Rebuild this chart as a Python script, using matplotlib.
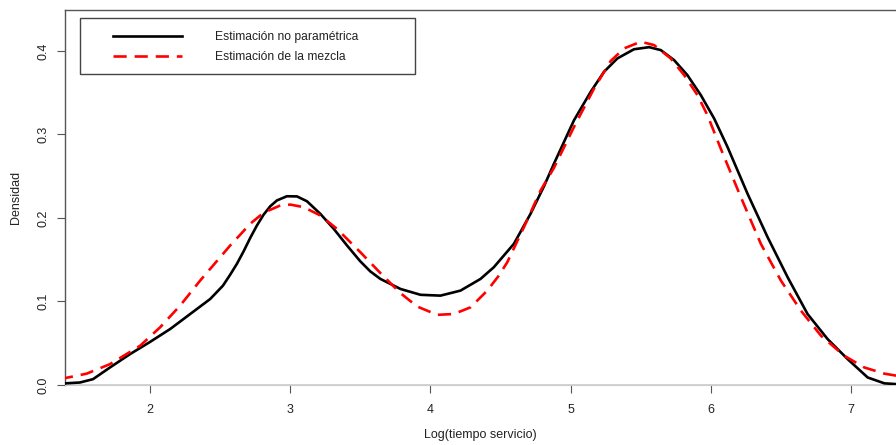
import matplotlib
matplotlib.use("Agg")
import matplotlib.pyplot as plt
from matplotlib.patches import Rectangle
from matplotlib.lines import Line2D

plt.rcParams["font.family"] = ["Liberation Sans", "DejaVu Sans"]

# kernel density estimate of log service time
kde_x = [1.357, 1.50, 1.593, 1.714, 1.857, 2.0, 2.143, 2.286, 2.429, 2.52,
         2.571, 2.619, 2.667, 2.714, 2.762, 2.81, 2.857, 2.905, 2.976, 3.048,
         3.119, 3.214, 3.31, 3.405, 3.5, 3.571, 3.643, 3.786, 3.929, 4.071,
         4.214, 4.357, 4.452, 4.595, 4.714, 4.81, 4.881, 5.024, 5.143, 5.238,
         5.333, 5.452, 5.56, 5.643, 5.738, 5.833, 5.929, 6.024, 6.119, 6.262,
         6.405, 6.548, 6.69, 6.833, 6.976, 7.119, 7.238, 7.33]
kde_y = [0.0016, 0.003, 0.007, 0.021, 0.037, 0.0516, 0.067, 0.085, 0.103, 0.119,
         0.132, 0.145, 0.160, 0.176, 0.191, 0.204, 0.214, 0.221, 0.226, 0.2258,
         0.220, 0.205, 0.187, 0.167, 0.148, 0.136, 0.127, 0.115, 0.108, 0.107,
         0.113, 0.127, 0.141, 0.169, 0.205, 0.238, 0.265, 0.317, 0.351, 0.375,
         0.391, 0.402, 0.4045, 0.401, 0.389, 0.371, 0.347, 0.319, 0.285, 0.229,
         0.177, 0.129, 0.085, 0.055, 0.031, 0.009, 0.002, 0.001]

# fitted normal mixture density
mix_x = [1.357, 1.548, 1.714, 1.929, 2.071, 2.214, 2.357, 2.5, 2.571, 2.643,
         2.714, 2.786, 2.833, 2.929, 3.0, 3.095, 3.214, 3.333, 3.452, 3.5,
         3.643, 3.786, 3.905, 4.048, 4.167, 4.286, 4.405, 4.488, 4.548, 4.667,
         4.786, 4.881, 5.024, 5.167, 5.286, 5.381, 5.5, 5.595, 5.714, 5.81,
         5.905, 5.976, 6.071, 6.214, 6.357, 6.5, 6.643, 6.786, 6.952, 7.095,
         7.238, 7.33]
mix_y = [0.007, 0.0136, 0.025, 0.047, 0.069, 0.095, 0.125, 0.153, 0.167, 0.180,
         0.193, 0.203, 0.208, 0.215, 0.216, 0.213, 0.203, 0.187, 0.167, 0.159,
         0.134, 0.110, 0.094, 0.084, 0.085, 0.093, 0.113, 0.131, 0.147, 0.189,
         0.233, 0.260, 0.309, 0.355, 0.388, 0.403, 0.411, 0.407, 0.391, 0.371,
         0.347, 0.323, 0.283, 0.225, 0.169, 0.125, 0.089, 0.059, 0.035, 0.021,
         0.0136, 0.011]

x_ticks = [2, 3, 4, 5, 6, 7]
y_ticks = [0.0, 0.1, 0.2, 0.3, 0.4]
legend_labels = ["Estimación no paramétrica", "Estimación de la mezcla"]

fig = plt.figure(figsize=(8.96, 4.45), dpi=100)
ax = fig.add_axes([65 / 896, 60 / 445, 831 / 896, 375 / 445])

ax.axhline(0, color="#cccccc", lw=1.2, zorder=1)
ax.plot(kde_x, kde_y, color="black", lw=1.9, zorder=3,
        solid_capstyle="round", solid_joinstyle="round")
ax.plot(mix_x, mix_y, color="red", lw=1.9, ls=(0, (5, 3)), zorder=4,
        dash_joinstyle="round")

ax.set_xlim(1.393, 7.321)
ax.set_ylim(0, 0.449)
ax.set_xticks(x_ticks)
ax.set_xticklabels([str(t) for t in x_ticks])
ax.set_yticks(y_ticks)
ax.set_yticklabels([f"{t:.1f}" for t in y_ticks], rotation=90, va="center")
ax.tick_params(axis="both", length=6, color="#555555", labelsize=9,
               labelcolor="#222222", width=0.8)
ax.tick_params(axis="x", pad=8)
ax.tick_params(axis="y", pad=5)

for side in ("left", "top"):
    ax.spines[side].set_color("#555555")
    ax.spines[side].set_linewidth(1.0)
ax.spines["bottom"].set_color("#cccccc")
ax.spines["right"].set_visible(False)

ax.set_xlabel("Log(tiempo servicio)", fontsize=9, color="#222222", labelpad=9)
ax.set_ylabel("Densidad", fontsize=9, color="#222222", labelpad=11)

# legend box drawn in figure pixels, R style
def fx(px):
    return px / 896

def fy(py):
    return 1 - py / 445

fig.add_artist(Rectangle((fx(80), fy(74)), fx(415) - fx(80), fy(18) - fy(74),
                         transform=fig.transFigure, facecolor="white",
                         edgecolor="#444444", lw=1.0, zorder=5))
fig.add_artist(Line2D([fx(113), fx(182)], [fy(36), fy(36)], color="black",
                      lw=1.9, transform=fig.transFigure, zorder=6))
fig.add_artist(Line2D([fx(113), fx(182)], [fy(56), fy(56)], color="red",
                      lw=1.9, ls=(0, (5, 3)), transform=fig.transFigure, zorder=6))
for py, lab in zip([37, 57], legend_labels):
    fig.text(fx(215), fy(py), lab, fontsize=8.7, color="#222222",
             va="center", ha="left", zorder=7)

fig.savefig("out.png", dpi=100)
